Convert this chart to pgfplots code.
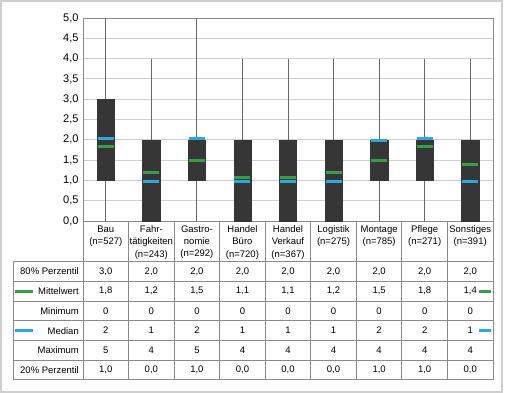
\documentclass[border=0pt]{standalone}
\usepackage{fontspec}
\setmainfont{Liberation Sans}
\usepackage{pgfplots}
\pgfplotsset{compat=1.18}
\usepgfplotslibrary{statistics}
\definecolor{boxgray}{HTML}{363636}
\definecolor{whisk}{HTML}{666666}
\definecolor{mgreen}{HTML}{34A043}
\definecolor{mblue}{HTML}{2AA8E0}
\definecolor{gridc}{HTML}{CFCFCF}
\definecolor{tabc}{HTML}{8A8A8A}
\begin{document}
\begin{tikzpicture}[x=1pt,y=1pt]
\useasboundingbox (0,0) rectangle (506,393);
\draw[gridc, line width=1.2pt] (1,1) rectangle (502,392);
\begin{axis}[
  at={(83pt,172pt)}, anchor=south west,
  scale only axis, width=410pt, height=203pt,
  xmin=-0.5, xmax=8.5, ymin=0, ymax=5,
  ytick={0,0.5,...,5},
  xtick={0,...,8},
  xticklabels={{Bau\\(n=527)},{Fahr-\\tätigkeiten\\(n=243)},{Gastro-\\nomie\\(n=292)},{Handel\\Büro\\(n=720)},{Handel\\Verkauf\\(n=367)},{Logistik\\(n=275)},{Montage\\(n=785)},{Pflege\\(n=271)},{Sonstiges\\(n=391)}},
  xticklabel style={align=center, font=\fontsize{9.5}{12.3}\selectfont, anchor=north, yshift=-1pt},
  yticklabel style={font=\fontsize{11}{13}\selectfont, xshift=-1pt},
  major tick length=0pt,
  ymajorgrids, grid style={gridc, line width=0.8pt},
  axis line style={tabc, line width=0.8pt},
  /pgf/number format/.cd, fixed, fixed zerofill, precision=1, use comma, assume math mode=true,
  /pgfplots/.cd,
  boxplot/draw direction=y,
  boxplot/every box/.style={fill=boxgray, draw=boxgray},
  boxplot/every median/.style={draw=boxgray},
  boxplot/every whisker/.style={draw=whisk, line width=0.9pt},
  boxplot/whisker extend=0,
  boxplot/box extend=0.38,
  clip=false,
]
\addplot[boxplot prepared={draw position=0, lower whisker=0, lower quartile=1, median=2, upper quartile=3, upper whisker=5}] coordinates {};
\addplot[boxplot prepared={draw position=1, lower whisker=0, lower quartile=0, median=1, upper quartile=2, upper whisker=4}] coordinates {};
\addplot[boxplot prepared={draw position=2, lower whisker=0, lower quartile=1, median=2, upper quartile=2, upper whisker=5}] coordinates {};
\addplot[boxplot prepared={draw position=3, lower whisker=0, lower quartile=0, median=1, upper quartile=2, upper whisker=4}] coordinates {};
\addplot[boxplot prepared={draw position=4, lower whisker=0, lower quartile=0, median=1, upper quartile=2, upper whisker=4}] coordinates {};
\addplot[boxplot prepared={draw position=5, lower whisker=0, lower quartile=0, median=1, upper quartile=2, upper whisker=4}] coordinates {};
\addplot[boxplot prepared={draw position=6, lower whisker=0, lower quartile=1, median=2, upper quartile=2, upper whisker=4}] coordinates {};
\addplot[boxplot prepared={draw position=7, lower whisker=0, lower quartile=1, median=2, upper quartile=2, upper whisker=4}] coordinates {};
\addplot[boxplot prepared={draw position=8, lower whisker=0, lower quartile=0, median=1, upper quartile=2, upper whisker=4}] coordinates {};
% mean
\addplot[only marks, mark=-, mark size=8pt, mark options={draw=mgreen, line width=3pt}] coordinates {
(0,1.83) (1,1.20) (2,1.50) (3,1.08) (4,1.08) (5,1.19) (6,1.50) (7,1.83) (8,1.39)};
% median
\addplot[only marks, mark=-, mark size=8pt, mark options={draw=mblue, line width=3pt}] coordinates {
(0,2.02) (1,0.97) (2,2.02) (3,0.97) (4,0.97) (5,0.97) (6,1.99) (7,2.02) (8,0.97)};
\end{axis}
% table grid
\foreach \k in {0,...,6} { \draw[tabc, line width=0.8pt] (13,{131.3-19.7*\k}) -- (493,{131.3-19.7*\k}); }
\draw[tabc, line width=0.8pt] (13,131.3) -- (13,13.1);
\foreach \k in {0,...,9} { \draw[tabc, line width=0.8pt] ({83+45.556*\k},172) -- ({83+45.556*\k},13.1); }
% row labels
\foreach \lab [count=\r from 0] in {80\% Perzentil,Mittelwert,Minimum,Median,Maximum,20\% Perzentil} {
  \node[anchor=east, font=\fontsize{9.5}{11}\selectfont, inner sep=0pt] at (79,{121.45-19.7*\r}) {\lab};
}
% values
\foreach \v [count=\c from 0] in {3{,}0,2{,}0,2{,}0,2{,}0,2{,}0,2{,}0,2{,}0,2{,}0,2{,}0} \node[font=\fontsize{9.5}{11}\selectfont] at ({105.78+45.556*\c},121.45) {\v};
\foreach \v [count=\c from 0] in {1{,}8,1{,}2,1{,}5,1{,}1,1{,}1,1{,}2,1{,}5,1{,}8,1{,}4} \node[font=\fontsize{9.5}{11}\selectfont] at ({105.78+45.556*\c},101.75) {\v};
\foreach \v [count=\c from 0] in {0,0,0,0,0,0,0,0,0} \node[font=\fontsize{9.5}{11}\selectfont] at ({105.78+45.556*\c},82.05) {\v};
\foreach \v [count=\c from 0] in {2,1,2,1,1,1,2,2,1} \node[font=\fontsize{9.5}{11}\selectfont] at ({105.78+45.556*\c},62.35) {\v};
\foreach \v [count=\c from 0] in {5,4,5,4,4,4,4,4,4} \node[font=\fontsize{9.5}{11}\selectfont] at ({105.78+45.556*\c},42.65) {\v};
\foreach \v [count=\c from 0] in {1{,}0,0{,}0,1{,}0,0{,}0,0{,}0,0{,}0,1{,}0,1{,}0,0{,}0} \node[font=\fontsize{9.5}{11}\selectfont] at ({105.78+45.556*\c},22.95) {\v};
% legend keys
\draw[mgreen, line width=3pt] (15,101.75) -- (33,101.75);
\draw[mblue, line width=3pt] (15,62.35) -- (33,62.35);
\draw[mgreen, line width=3pt] (479,101.75) -- (491,101.75);
\draw[mblue, line width=3pt] (479,62.35) -- (491,62.35);
\end{tikzpicture}
\end{document}
